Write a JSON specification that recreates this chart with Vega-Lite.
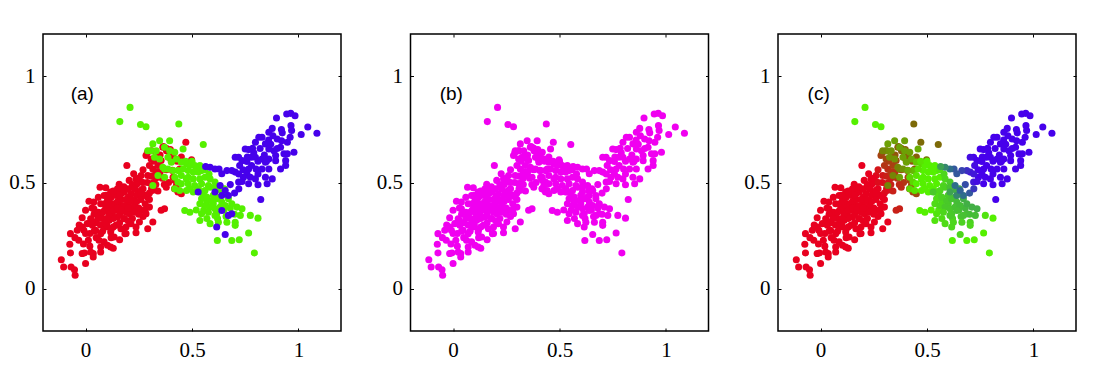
{
"$schema": "https://vega.github.io/schema/vega-lite/v6.json",
"background": "white",
"padding": {"left": 8, "top": 32, "right": 5, "bottom": 5},
"bounds": "flush",
"spacing": 69.5,
"config": {
  "view": {"stroke": "#000000", "strokeWidth": 1.5}
},
"datasets": {
"pts": [
{"x":-0.114,"y":0.136,"k":"r","t":0},{"x":-0.103,"y":0.102,"k":"r","t":0},{"x":-0.068,"y":0.102,"k":"r","t":0},{"x":-0.052,"y":0.089,"k":"r","t":0},{"x":-0.049,"y":0.063,"k":"r","t":0},{"x":0.0,"y":0.118,"k":"r","t":0},{"x":-0.071,"y":0.168,"k":"r","t":0},{"x":-0.074,"y":0.209,"k":"r","t":0},{"x":-0.071,"y":0.259,"k":"r","t":0},{"x":-0.032,"y":0.228,"k":"r","t":0},{"x":-0.016,"y":0.165,"k":"r","t":0},{"x":-0.005,"y":0.168,"k":"r","t":0},{"x":0.036,"y":0.165,"k":"r","t":0},{"x":0.013,"y":0.228,"k":"r","t":0},{"x":-0.039,"y":0.275,"k":"r","t":0},{"x":-0.008,"y":0.275,"k":"r","t":0},{"x":-0.016,"y":0.29,"k":"r","t":0},{"x":0.008,"y":0.306,"k":"r","t":0},{"x":-0.016,"y":0.334,"k":"r","t":0},{"x":0.0,"y":0.369,"k":"r","t":0},{"x":0.016,"y":0.412,"k":"r","t":0},{"x":0.039,"y":0.408,"k":"r","t":0},{"x":0.039,"y":0.376,"k":"r","t":0},{"x":0.024,"y":0.329,"k":"r","t":0},{"x":0.032,"y":0.298,"k":"r","t":0},{"x":0.047,"y":0.275,"k":"r","t":0},{"x":0.071,"y":0.259,"k":"r","t":0},{"x":0.063,"y":0.228,"k":"r","t":0},{"x":0.087,"y":0.22,"k":"r","t":0},{"x":0.103,"y":0.204,"k":"r","t":0},{"x":0.071,"y":0.196,"k":"r","t":0},{"x":0.095,"y":0.29,"k":"r","t":0},{"x":0.118,"y":0.267,"k":"r","t":0},{"x":0.134,"y":0.243,"k":"r","t":0},{"x":0.111,"y":0.322,"k":"r","t":0},{"x":0.142,"y":0.298,"k":"r","t":0},{"x":0.166,"y":0.282,"k":"r","t":0},{"x":0.19,"y":0.29,"k":"r","t":0},{"x":0.213,"y":0.306,"k":"r","t":0},{"x":0.237,"y":0.29,"k":"r","t":0},{"x":0.253,"y":0.314,"k":"r","t":0},{"x":0.071,"y":0.345,"k":"r","t":0},{"x":0.095,"y":0.369,"k":"r","t":0},{"x":0.126,"y":0.353,"k":"r","t":0},{"x":0.15,"y":0.337,"k":"r","t":0},{"x":0.182,"y":0.329,"k":"r","t":0},{"x":0.205,"y":0.353,"k":"r","t":0},{"x":0.229,"y":0.369,"k":"r","t":0},{"x":0.261,"y":0.369,"k":"r","t":0},{"x":0.071,"y":0.4,"k":"r","t":0},{"x":0.103,"y":0.416,"k":"r","t":0},{"x":0.134,"y":0.4,"k":"r","t":0},{"x":0.166,"y":0.392,"k":"r","t":0},{"x":0.198,"y":0.408,"k":"r","t":0},{"x":0.229,"y":0.416,"k":"r","t":0},{"x":0.087,"y":0.439,"k":"r","t":0},{"x":0.118,"y":0.455,"k":"r","t":0},{"x":0.15,"y":0.439,"k":"r","t":0},{"x":0.182,"y":0.455,"k":"r","t":0},{"x":0.213,"y":0.447,"k":"r","t":0},{"x":0.245,"y":0.455,"k":"r","t":0},{"x":0.269,"y":0.439,"k":"r","t":0},{"x":0.194,"y":0.58,"k":"r","t":0},{"x":0.226,"y":0.541,"k":"r","t":0},{"x":0.205,"y":0.51,"k":"r","t":0},{"x":0.237,"y":0.517,"k":"r","t":0},{"x":0.261,"y":0.533,"k":"r","t":0.05},{"x":0.158,"y":0.491,"k":"r","t":0},{"x":0.068,"y":0.478,"k":"r","t":0},{"x":0.095,"y":0.475,"k":"r","t":0},{"x":0.261,"y":0.502,"k":"r","t":0},{"x":0.174,"y":0.47,"k":"r","t":0},{"x":0.221,"y":0.478,"k":"r","t":0},{"x":0.261,"y":0.463,"k":"r","t":0},
{"x":0.02,"y":0.26,"k":"r","t":0},{"x":0.05,"y":0.31,"k":"r","t":0},{"x":0.06,"y":0.36,"k":"r","t":0},{"x":0.08,"y":0.33,"k":"r","t":0},{"x":0.09,"y":0.4,"k":"r","t":0},{"x":0.1,"y":0.3,"k":"r","t":0},{"x":0.11,"y":0.38,"k":"r","t":0},{"x":0.12,"y":0.43,"k":"r","t":0},{"x":0.13,"y":0.33,"k":"r","t":0},{"x":0.14,"y":0.37,"k":"r","t":0},{"x":0.15,"y":0.41,"k":"r","t":0},{"x":0.16,"y":0.35,"k":"r","t":0},{"x":0.17,"y":0.45,"k":"r","t":0},{"x":0.18,"y":0.39,"k":"r","t":0},{"x":0.19,"y":0.36,"k":"r","t":0},{"x":0.2,"y":0.43,"k":"r","t":0},{"x":0.21,"y":0.38,"k":"r","t":0},{"x":0.22,"y":0.33,"k":"r","t":0},{"x":0.23,"y":0.4,"k":"r","t":0},{"x":0.24,"y":0.44,"k":"r","t":0},{"x":0.25,"y":0.38,"k":"r","t":0},{"x":0.26,"y":0.42,"k":"r","t":0},{"x":0.27,"y":0.47,"k":"r","t":0},{"x":0.28,"y":0.4,"k":"r","t":0},{"x":0.29,"y":0.5,"k":"r","t":0.05},{"x":0.24,"y":0.49,"k":"r","t":0},{"x":0.2,"y":0.47,"k":"r","t":0},{"x":0.15,"y":0.47,"k":"r","t":0},{"x":0.1,"y":0.44,"k":"r","t":0},{"x":0.06,"y":0.43,"k":"r","t":0},{"x":0.03,"y":0.38,"k":"r","t":0},{"x":0.05,"y":0.24,"k":"r","t":0},{"x":0.08,"y":0.27,"k":"r","t":0},{"x":0.12,"y":0.24,"k":"r","t":0},{"x":0.16,"y":0.31,"k":"r","t":0},{"x":0.19,"y":0.26,"k":"r","t":0},{"x":0.27,"y":0.34,"k":"r","t":0},{"x":0.3,"y":0.42,"k":"r","t":0},{"x":0.13,"y":0.19,"k":"r","t":0},{"x":0.16,"y":0.23,"k":"r","t":0},{"x":0.11,"y":0.35,"k":"r","t":0},{"x":0.09,"y":0.37,"k":"r","t":0},{"x":0.17,"y":0.42,"k":"r","t":0},{"x":0.14,"y":0.44,"k":"r","t":0},{"x":0.22,"y":0.49,"k":"r","t":0},{"x":0.25,"y":0.52,"k":"r","t":0},{"x":0.31,"y":0.47,"k":"r","t":0.05},{"x":0.21,"y":0.41,"k":"r","t":0},{"x":0.23,"y":0.36,"k":"r","t":0},{"x":0.18,"y":0.33,"k":"r","t":0},{"x":0.1,"y":0.33,"k":"r","t":0},{"x":0.04,"y":0.35,"k":"r","t":0},{"x":0.07,"y":0.3,"k":"r","t":0},{"x":-0.03,"y":0.3,"k":"r","t":0},{"x":-0.05,"y":0.24,"k":"r","t":0},{"x":-0.01,"y":0.21,"k":"r","t":0},{"x":0.02,"y":0.2,"k":"r","t":0},{"x":0.28,"y":0.44,"k":"r","t":0},
{"x":0.0,"y":0.26,"k":"r","t":0},{"x":0.03,"y":0.32,"k":"r","t":0},{"x":0.06,"y":0.33,"k":"r","t":0},{"x":0.08,"y":0.36,"k":"r","t":0},{"x":0.12,"y":0.4,"k":"r","t":0},{"x":0.13,"y":0.37,"k":"r","t":0},{"x":0.15,"y":0.38,"k":"r","t":0},{"x":0.17,"y":0.37,"k":"r","t":0},{"x":0.19,"y":0.42,"k":"r","t":0},{"x":0.22,"y":0.42,"k":"r","t":0},{"x":0.24,"y":0.41,"k":"r","t":0},{"x":0.26,"y":0.45,"k":"r","t":0},{"x":0.23,"y":0.47,"k":"r","t":0},{"x":0.18,"y":0.48,"k":"r","t":0},{"x":0.13,"y":0.46,"k":"r","t":0},{"x":0.09,"y":0.31,"k":"r","t":0},{"x":0.13,"y":0.29,"k":"r","t":0},{"x":0.2,"y":0.32,"k":"r","t":0},{"x":0.25,"y":0.35,"k":"r","t":0},{"x":0.28,"y":0.37,"k":"r","t":0},{"x":0.3,"y":0.45,"k":"r","t":0.05},{"x":0.33,"y":0.52,"k":"r","t":0.2},{"x":0.35,"y":0.55,"k":"r","t":0.25},{"x":0.12,"y":0.28,"k":"r","t":0},{"x":0.04,"y":0.27,"k":"r","t":0},{"x":0.27,"y":0.5,"k":"r","t":0.05},{"x":0.32,"y":0.5,"k":"r","t":0.15},{"x":0.2,"y":0.38,"k":"r","t":0},{"x":0.16,"y":0.44,"k":"r","t":0},{"x":0.11,"y":0.41,"k":"r","t":0},
{"x":0.292,"y":0.431,"k":"r","t":0},{"x":0.3,"y":0.384,"k":"r","t":0},{"x":0.284,"y":0.353,"k":"r","t":0},{"x":0.316,"y":0.314,"k":"r","t":0},{"x":0.292,"y":0.282,"k":"r","t":0},{"x":0.237,"y":0.263,"k":"r","t":0},{"x":0.185,"y":0.259,"k":"r","t":0},{"x":0.118,"y":0.196,"k":"r","t":0},{"x":0.071,"y":0.172,"k":"r","t":0},{"x":0.024,"y":0.172,"k":"r","t":0},{"x":0.036,"y":0.149,"k":"r","t":0},{"x":0.355,"y":0.369,"k":"r","t":0.15},{"x":0.371,"y":0.376,"k":"r","t":0.15},{"x":0.316,"y":0.463,"k":"r","t":0.05},{"x":0.308,"y":0.494,"k":"r","t":0.1},
{"x":0.471,"y":0.69,"k":"r","t":0.5},{"x":0.398,"y":0.655,"k":"r","t":0.45},{"x":0.366,"y":0.669,"k":"r","t":0.45},{"x":0.284,"y":0.627,"k":"r","t":0.3},{"x":0.308,"y":0.611,"k":"r","t":0.35},{"x":0.355,"y":0.604,"k":"r","t":0.35},{"x":0.316,"y":0.564,"k":"r","t":0.2},{"x":0.292,"y":0.533,"k":"r","t":0.1},{"x":0.347,"y":0.541,"k":"r","t":0.25},{"x":0.371,"y":0.564,"k":"r","t":0.3},{"x":0.408,"y":0.557,"k":"r","t":0.35},{"x":0.442,"y":0.564,"k":"r","t":0.4},{"x":0.498,"y":0.607,"k":"r","t":0.55},{"x":0.411,"y":0.525,"k":"r","t":0.3},{"x":0.427,"y":0.486,"k":"r","t":0.3},{"x":0.379,"y":0.478,"k":"r","t":0.2},{"x":0.434,"y":0.455,"k":"r","t":0.3},{"x":0.45,"y":0.447,"k":"r","t":0.35},{"x":0.418,"y":0.47,"k":"r","t":0.3},{"x":0.31,"y":0.53,"k":"r","t":0.15},{"x":0.33,"y":0.49,"k":"r","t":0.15},{"x":0.34,"y":0.58,"k":"r","t":0.3},{"x":0.32,"y":0.6,"k":"r","t":0.3},{"x":0.36,"y":0.52,"k":"r","t":0.25},{"x":0.38,"y":0.56,"k":"r","t":0.3},{"x":0.39,"y":0.5,"k":"r","t":0.25},{"x":0.4,"y":0.61,"k":"r","t":0.4},{"x":0.35,"y":0.63,"k":"r","t":0.4},{"x":0.37,"y":0.49,"k":"r","t":0.2},{"x":0.42,"y":0.51,"k":"r","t":0.3},{"x":0.34,"y":0.46,"k":"r","t":0.15},{"x":0.27,"y":0.56,"k":"r","t":0.1},{"x":0.33,"y":0.55,"k":"r","t":0.25},{"x":0.3,"y":0.58,"k":"r","t":0.25},{"x":0.29,"y":0.64,"k":"r","t":0.35},{"x":0.31,"y":0.65,"k":"r","t":0.35},{"x":0.38,"y":0.65,"k":"r","t":0.45},{"x":0.41,"y":0.63,"k":"r","t":0.45},{"x":0.45,"y":0.62,"k":"r","t":0.45},{"x":0.43,"y":0.6,"k":"r","t":0.4},{"x":0.363,"y":0.666,"k":"r","t":0.45},{"x":0.34,"y":0.627,"k":"r","t":0.4},{"x":0.379,"y":0.661,"k":"r","t":0.45},
{"x":0.209,"y":0.854,"k":"g","t":1},{"x":0.161,"y":0.787,"k":"g","t":1},{"x":0.258,"y":0.773,"k":"g","t":1},{"x":0.284,"y":0.763,"k":"g","t":1},{"x":0.438,"y":0.776,"k":"g","t":0.5},{"x":0.553,"y":0.679,"k":"g","t":0.5},
{"x":0.348,"y":0.697,"k":"g","t":0.7},{"x":0.395,"y":0.697,"k":"g","t":0.7},{"x":0.316,"y":0.682,"k":"g","t":0.7},{"x":0.308,"y":0.65,"k":"g","t":0.65},{"x":0.332,"y":0.65,"k":"g","t":0.65},{"x":0.371,"y":0.666,"k":"g","t":0.7},{"x":0.395,"y":0.65,"k":"g","t":0.7},{"x":0.419,"y":0.643,"k":"g","t":0.7},{"x":0.458,"y":0.658,"k":"g","t":0.75},{"x":0.324,"y":0.619,"k":"g","t":0.65},{"x":0.348,"y":0.611,"k":"g","t":0.65},{"x":0.387,"y":0.619,"k":"g","t":0.7},{"x":0.427,"y":0.611,"k":"g","t":0.75},{"x":0.292,"y":0.65,"k":"g","t":0.6},{"x":0.403,"y":0.596,"k":"g","t":0.7},{"x":0.363,"y":0.572,"k":"g","t":0.6},{"x":0.371,"y":0.564,"k":"g","t":0.6},{"x":0.387,"y":0.564,"k":"g","t":0.65},
{"x":0.45,"y":0.596,"k":"g","t":0.85},{"x":0.474,"y":0.588,"k":"g","t":0.9},{"x":0.434,"y":0.556,"k":"g","t":0.8},{"x":0.411,"y":0.556,"k":"g","t":0.75},{"x":0.34,"y":0.533,"k":"g","t":0.6},{"x":0.371,"y":0.525,"k":"g","t":0.7},{"x":0.316,"y":0.486,"k":"g","t":0.6},
{"x":0.49,"y":0.58,"k":"g","t":1},{"x":0.513,"y":0.58,"k":"g","t":1},{"x":0.537,"y":0.58,"k":"g","t":1},{"x":0.545,"y":0.556,"k":"g","t":1},{"x":0.529,"y":0.549,"k":"g","t":1},{"x":0.506,"y":0.549,"k":"g","t":1},{"x":0.482,"y":0.556,"k":"g","t":1},{"x":0.458,"y":0.564,"k":"g","t":0.95},{"x":0.419,"y":0.525,"k":"g","t":0.9},{"x":0.45,"y":0.533,"k":"g","t":0.95},{"x":0.482,"y":0.525,"k":"g","t":1},{"x":0.506,"y":0.517,"k":"g","t":1},{"x":0.537,"y":0.517,"k":"g","t":1},{"x":0.561,"y":0.525,"k":"g","t":1},{"x":0.474,"y":0.517,"k":"g","t":1},{"x":0.434,"y":0.502,"k":"g","t":0.9},{"x":0.545,"y":0.494,"k":"g","t":1},{"x":0.513,"y":0.486,"k":"g","t":1},{"x":0.482,"y":0.494,"k":"g","t":1},{"x":0.45,"y":0.494,"k":"g","t":1},{"x":0.419,"y":0.47,"k":"g","t":0.9},{"x":0.442,"y":0.462,"k":"g","t":0.95},{"x":0.474,"y":0.462,"k":"g","t":1},{"x":0.506,"y":0.455,"k":"g","t":1},{"x":0.466,"y":0.368,"k":"g","t":1},{"x":0.49,"y":0.36,"k":"g","t":1},{"x":0.545,"y":0.353,"k":"g","t":1.05},
{"x":0.47,"y":0.6,"k":"g","t":0.95},{"x":0.5,"y":0.6,"k":"g","t":1},{"x":0.52,"y":0.565,"k":"g","t":1},{"x":0.56,"y":0.56,"k":"g","t":1.05},{"x":0.58,"y":0.54,"k":"g","t":1.1},{"x":0.49,"y":0.47,"k":"g","t":1},{"x":0.53,"y":0.47,"k":"g","t":1},{"x":0.555,"y":0.44,"k":"g","t":1.1},{"x":0.6,"y":0.44,"k":"g","t":1.15},{"x":0.63,"y":0.43,"k":"g","t":1.2},{"x":0.6,"y":0.4,"k":"g","t":1.15},{"x":0.57,"y":0.41,"k":"g","t":1.1},{"x":0.65,"y":0.37,"k":"g","t":1.2},{"x":0.68,"y":0.38,"k":"g","t":1.22},{"x":0.62,"y":0.33,"k":"g","t":1.12},{"x":0.57,"y":0.33,"k":"g","t":1.08},{"x":0.52,"y":0.37,"k":"g","t":1},{"x":0.555,"y":0.37,"k":"g","t":1.05},{"x":0.7,"y":0.35,"k":"g","t":1.2},{"x":0.66,"y":0.34,"k":"g","t":1.15},
{"x":0.585,"y":0.517,"k":"g","t":1.1},{"x":0.608,"y":0.502,"k":"g","t":1.15},{"x":0.577,"y":0.486,"k":"g","t":1.1},{"x":0.537,"y":0.455,"k":"g","t":1.05},{"x":0.561,"y":0.462,"k":"g","t":1.1},{"x":0.585,"y":0.478,"k":"g","t":1.12},{"x":0.608,"y":0.478,"k":"g","t":1.18},{"x":0.637,"y":0.462,"k":"g","t":1.25},{"x":0.652,"y":0.47,"k":"g","t":1.3},{"x":0.545,"y":0.423,"k":"g","t":1.08},{"x":0.569,"y":0.431,"k":"g","t":1.12},{"x":0.592,"y":0.415,"k":"g","t":1.15},{"x":0.616,"y":0.423,"k":"g","t":1.18},{"x":0.64,"y":0.408,"k":"g","t":1.2},{"x":0.671,"y":0.423,"k":"g","t":1.25},{"x":0.537,"y":0.4,"k":"g","t":1.08},{"x":0.561,"y":0.392,"k":"g","t":1.1},{"x":0.585,"y":0.384,"k":"g","t":1.15},{"x":0.608,"y":0.376,"k":"g","t":1.15},{"x":0.632,"y":0.384,"k":"g","t":1.18},{"x":0.656,"y":0.392,"k":"g","t":1.2},{"x":0.687,"y":0.4,"k":"g","t":1.25},{"x":0.711,"y":0.384,"k":"g","t":1.25},{"x":0.735,"y":0.376,"k":"g","t":1.25},{"x":0.577,"y":0.36,"k":"g","t":1.1},{"x":0.616,"y":0.353,"k":"g","t":1.15},{"x":0.608,"y":0.345,"k":"g","t":1.15},{"x":0.537,"y":0.321,"k":"g","t":1.05},{"x":0.585,"y":0.306,"k":"g","t":1.08},{"x":0.624,"y":0.313,"k":"g","t":1.1},{"x":0.664,"y":0.313,"k":"g","t":1.12},{"x":0.703,"y":0.313,"k":"g","t":1.12},{"x":0.703,"y":0.298,"k":"g","t":1.1},{"x":0.727,"y":0.345,"k":"g","t":1.2},
{"x":0.774,"y":0.345,"k":"g","t":1.05},{"x":0.81,"y":0.332,"k":"g","t":1},{"x":0.766,"y":0.262,"k":"g","t":1},{"x":0.687,"y":0.227,"k":"g","t":1},{"x":0.722,"y":0.23,"k":"g","t":1},{"x":0.619,"y":0.227,"k":"g","t":1},{"x":0.793,"y":0.168,"k":"g","t":1},
{"x":0.897,"y":0.804,"k":"b","t":2},{"x":0.945,"y":0.823,"k":"b","t":2},{"x":0.964,"y":0.826,"k":"b","t":2},{"x":0.984,"y":0.815,"k":"b","t":2},{"x":0.965,"y":0.768,"k":"b","t":2},{"x":1.044,"y":0.762,"k":"b","t":2},{"x":1.087,"y":0.732,"k":"b","t":2},{"x":1.013,"y":0.726,"k":"b","t":2},{"x":0.968,"y":0.745,"k":"b","t":2},{"x":0.877,"y":0.755,"k":"b","t":2},{"x":0.861,"y":0.737,"k":"b","t":2},{"x":0.924,"y":0.734,"k":"b","t":2},{"x":0.961,"y":0.713,"k":"b","t":2},{"x":0.948,"y":0.69,"k":"b","t":2},{"x":0.921,"y":0.697,"k":"b","t":2},{"x":0.9,"y":0.705,"k":"b","t":2},{"x":0.829,"y":0.713,"k":"b","t":2},{"x":0.814,"y":0.713,"k":"b","t":2},{"x":0.798,"y":0.69,"k":"b","t":2},{"x":0.785,"y":0.661,"k":"b","t":2},{"x":0.766,"y":0.655,"k":"b","t":2},{"x":0.75,"y":0.658,"k":"b","t":2},{"x":0.845,"y":0.682,"k":"b","t":2},{"x":0.861,"y":0.658,"k":"b","t":2},{"x":0.885,"y":0.65,"k":"b","t":2},{"x":0.916,"y":0.666,"k":"b","t":2},{"x":0.932,"y":0.635,"k":"b","t":2},{"x":0.948,"y":0.635,"k":"b","t":2},{"x":0.979,"y":0.643,"k":"b","t":2},{"x":0.893,"y":0.627,"k":"b","t":2},{"x":0.893,"y":0.603,"k":"b","t":2},{"x":0.94,"y":0.603,"k":"b","t":2},{"x":0.861,"y":0.611,"k":"b","t":2},{"x":0.845,"y":0.596,"k":"b","t":2},{"x":0.829,"y":0.611,"k":"b","t":2},{"x":0.798,"y":0.619,"k":"b","t":2},{"x":0.779,"y":0.619,"k":"b","t":2},{"x":0.758,"y":0.599,"k":"b","t":2},{"x":0.735,"y":0.603,"k":"b","t":2},{"x":0.719,"y":0.619,"k":"b","t":2},{"x":0.703,"y":0.619,"k":"b","t":1.95},{"x":0.724,"y":0.58,"k":"b","t":1.95},{"x":0.766,"y":0.564,"k":"b","t":2},{"x":0.801,"y":0.564,"k":"b","t":2},{"x":0.829,"y":0.564,"k":"b","t":2},{"x":0.861,"y":0.564,"k":"b","t":2},{"x":0.916,"y":0.564,"k":"b","t":2},{"x":0.94,"y":0.58,"k":"b","t":2},{"x":0.758,"y":0.541,"k":"b","t":2},{"x":0.742,"y":0.525,"k":"b","t":2},{"x":0.703,"y":0.549,"k":"b","t":1.9},{"x":0.687,"y":0.556,"k":"b","t":1.8},{"x":0.664,"y":0.556,"k":"b","t":1.7},{"x":0.719,"y":0.502,"k":"b","t":1.9},{"x":0.766,"y":0.494,"k":"b","t":2},{"x":0.735,"y":0.505,"k":"b","t":1.95},{"x":0.798,"y":0.517,"k":"b","t":2},{"x":0.774,"y":0.525,"k":"b","t":2},{"x":0.845,"y":0.525,"k":"b","t":2},{"x":0.81,"y":0.489,"k":"b","t":2},{"x":0.853,"y":0.494,"k":"b","t":2},{"x":0.877,"y":0.517,"k":"b","t":2},{"x":0.823,"y":0.42,"k":"b","t":2},
{"x":0.78,"y":0.58,"k":"b","t":2},{"x":0.81,"y":0.6,"k":"b","t":2},{"x":0.84,"y":0.63,"k":"b","t":2},{"x":0.87,"y":0.68,"k":"b","t":2},{"x":0.82,"y":0.66,"k":"b","t":2},{"x":0.79,"y":0.64,"k":"b","t":2},{"x":0.76,"y":0.62,"k":"b","t":2},{"x":0.88,"y":0.72,"k":"b","t":2},{"x":0.9,"y":0.66,"k":"b","t":2},{"x":0.74,"y":0.56,"k":"b","t":2},{"x":0.72,"y":0.54,"k":"b","t":1.9},{"x":0.81,"y":0.54,"k":"b","t":2},{"x":0.85,"y":0.6,"k":"b","t":2},{"x":0.86,"y":0.7,"k":"b","t":2},{"x":0.92,"y":0.75,"k":"b","t":2},
{"x":0.64,"y":0.541,"k":"b","t":1.6},{"x":0.627,"y":0.564,"k":"b","t":1.6},{"x":0.608,"y":0.564,"k":"b","t":1.5},{"x":0.585,"y":0.572,"k":"b","t":1.4},{"x":0.564,"y":0.575,"k":"b","t":1.3},{"x":0.671,"y":0.439,"k":"b","t":1.5},{"x":0.64,"y":0.439,"k":"b","t":1.4},{"x":0.608,"y":0.455,"k":"b","t":1.3},{"x":0.632,"y":0.486,"k":"b","t":1.5},{"x":0.656,"y":0.462,"k":"b","t":1.55},{"x":0.529,"y":0.455,"k":"b","t":1.15},{"x":0.687,"y":0.353,"k":"b","t":1.2},{"x":0.671,"y":0.345,"k":"b","t":1.18},{"x":0.616,"y":0.29,"k":"b","t":1.1},{"x":0.656,"y":0.255,"k":"b","t":1.1},{"x":0.64,"y":0.368,"k":"b","t":1.18},{"x":0.7,"y":0.45,"k":"b","t":1.6},{"x":0.72,"y":0.47,"k":"b","t":1.75},{"x":0.68,"y":0.49,"k":"b","t":1.65}
]
},
"hconcat": [
{
  "width": 298, "height": 297,
  "layer": [
    {"data": {"name": "pts"}, "mark": {"type": "circle", "size": 50, "opacity": 1},
     "encoding": {
       "x": {"field": "x", "type": "quantitative", "scale": {"domain": [-0.2, 1.2], "nice": false, "zero": false}, "axis": {"orient": "bottom", "values": [0, 0.5, 1], "format": "~g", "title": null, "grid": false, "domain": false, "tickColor": "#000000", "tickSize": -3, "labelFont": "Liberation Serif", "labelFontSize": 21, "labelColor": "#000000", "labelPadding": 11}},
       "y": {"field": "y", "type": "quantitative", "scale": {"domain": [-0.2, 1.2], "nice": false, "zero": false}, "axis": {"orient": "left", "values": [0, 0.5, 1], "format": "~g", "title": null, "grid": false, "domain": false, "tickColor": "#000000", "tickSize": -3, "labelFont": "Liberation Serif", "labelFontSize": 21, "labelColor": "#000000", "labelPadding": 11}},
       "color": {"field": "k", "type": "nominal", "scale": {"domain": ["r", "g", "b"], "range": ["#e8001f", "#55f000", "#4600eb"]}, "legend": null}
     }},
    {"data": {"values": [{"x": -0.07, "y": 0.917, "s": "(a)"}]}, "mark": {"type": "text", "font": "Liberation Sans", "fontSize": 19, "align": "left", "baseline": "middle", "color": "#000000"},
     "encoding": {
       "x": {"field": "x", "type": "quantitative", "scale": {"domain": [-0.2, 1.2], "nice": false, "zero": false}, "axis": {"orient": "top", "labels": false, "values": [0, 0.5, 1], "title": null, "grid": false, "domain": false, "tickColor": "#000000", "tickSize": -3}},
       "y": {"field": "y", "type": "quantitative", "scale": {"domain": [-0.2, 1.2], "nice": false, "zero": false}, "axis": {"orient": "right", "labels": false, "values": [0, 0.5, 1], "title": null, "grid": false, "domain": false, "tickColor": "#000000", "tickSize": -3}},
       "text": {"field": "s"}
     }}
  ],
  "resolve": {"axis": {"x": "independent", "y": "independent"}}
},
{
  "width": 298, "height": 297,
  "layer": [
    {"data": {"name": "pts"}, "mark": {"type": "circle", "size": 50, "opacity": 1, "color": "#f000f0"},
     "encoding": {
       "x": {"field": "x", "type": "quantitative", "scale": {"domain": [-0.2, 1.2], "nice": false, "zero": false}, "axis": {"orient": "bottom", "values": [0, 0.5, 1], "format": "~g", "title": null, "grid": false, "domain": false, "tickColor": "#000000", "tickSize": -3, "labelFont": "Liberation Serif", "labelFontSize": 21, "labelColor": "#000000", "labelPadding": 11}},
       "y": {"field": "y", "type": "quantitative", "scale": {"domain": [-0.2, 1.2], "nice": false, "zero": false}, "axis": {"orient": "left", "values": [0, 0.5, 1], "format": "~g", "title": null, "grid": false, "domain": false, "tickColor": "#000000", "tickSize": -3, "labelFont": "Liberation Serif", "labelFontSize": 21, "labelColor": "#000000", "labelPadding": 11}}
     }},
    {"data": {"values": [{"x": -0.063, "y": 0.917, "s": "(b)"}]}, "mark": {"type": "text", "font": "Liberation Sans", "fontSize": 19, "align": "left", "baseline": "middle", "color": "#000000"},
     "encoding": {
       "x": {"field": "x", "type": "quantitative", "scale": {"domain": [-0.2, 1.2], "nice": false, "zero": false}, "axis": {"orient": "top", "labels": false, "values": [0, 0.5, 1], "title": null, "grid": false, "domain": false, "tickColor": "#000000", "tickSize": -3}},
       "y": {"field": "y", "type": "quantitative", "scale": {"domain": [-0.2, 1.2], "nice": false, "zero": false}, "axis": {"orient": "right", "labels": false, "values": [0, 0.5, 1], "title": null, "grid": false, "domain": false, "tickColor": "#000000", "tickSize": -3}},
       "text": {"field": "s"}
     }}
  ],
  "resolve": {"axis": {"x": "independent", "y": "independent"}}
},
{
  "width": 298, "height": 297,
  "layer": [
    {"data": {"name": "pts"}, "mark": {"type": "circle", "size": 50, "opacity": 1},
     "encoding": {
       "x": {"field": "x", "type": "quantitative", "scale": {"domain": [-0.2, 1.2], "nice": false, "zero": false}, "axis": {"orient": "bottom", "values": [0, 0.5, 1], "format": "~g", "title": null, "grid": false, "domain": false, "tickColor": "#000000", "tickSize": -3, "labelFont": "Liberation Serif", "labelFontSize": 21, "labelColor": "#000000", "labelPadding": 11}},
       "y": {"field": "y", "type": "quantitative", "scale": {"domain": [-0.2, 1.2], "nice": false, "zero": false}, "axis": {"orient": "left", "values": [0, 0.5, 1], "format": "~g", "title": null, "grid": false, "domain": false, "tickColor": "#000000", "tickSize": -3, "labelFont": "Liberation Serif", "labelFontSize": 21, "labelColor": "#000000", "labelPadding": 11}},
       "color": {"field": "t", "type": "quantitative", "scale": {"domain": [0, 0.5, 1, 1.5, 2], "range": ["#e8001f", "#7d6a08", "#55f000", "#2e6e8a", "#4600eb"], "interpolate": "rgb"}, "legend": null}
     }},
    {"data": {"values": [{"x": -0.061, "y": 0.917, "s": "(c)"}]}, "mark": {"type": "text", "font": "Liberation Sans", "fontSize": 19, "align": "left", "baseline": "middle", "color": "#000000"},
     "encoding": {
       "x": {"field": "x", "type": "quantitative", "scale": {"domain": [-0.2, 1.2], "nice": false, "zero": false}, "axis": {"orient": "top", "labels": false, "values": [0, 0.5, 1], "title": null, "grid": false, "domain": false, "tickColor": "#000000", "tickSize": -3}},
       "y": {"field": "y", "type": "quantitative", "scale": {"domain": [-0.2, 1.2], "nice": false, "zero": false}, "axis": {"orient": "right", "labels": false, "values": [0, 0.5, 1], "title": null, "grid": false, "domain": false, "tickColor": "#000000", "tickSize": -3}},
       "text": {"field": "s"}
     }}
  ],
  "resolve": {"axis": {"x": "independent", "y": "independent"}}
}
]
}
